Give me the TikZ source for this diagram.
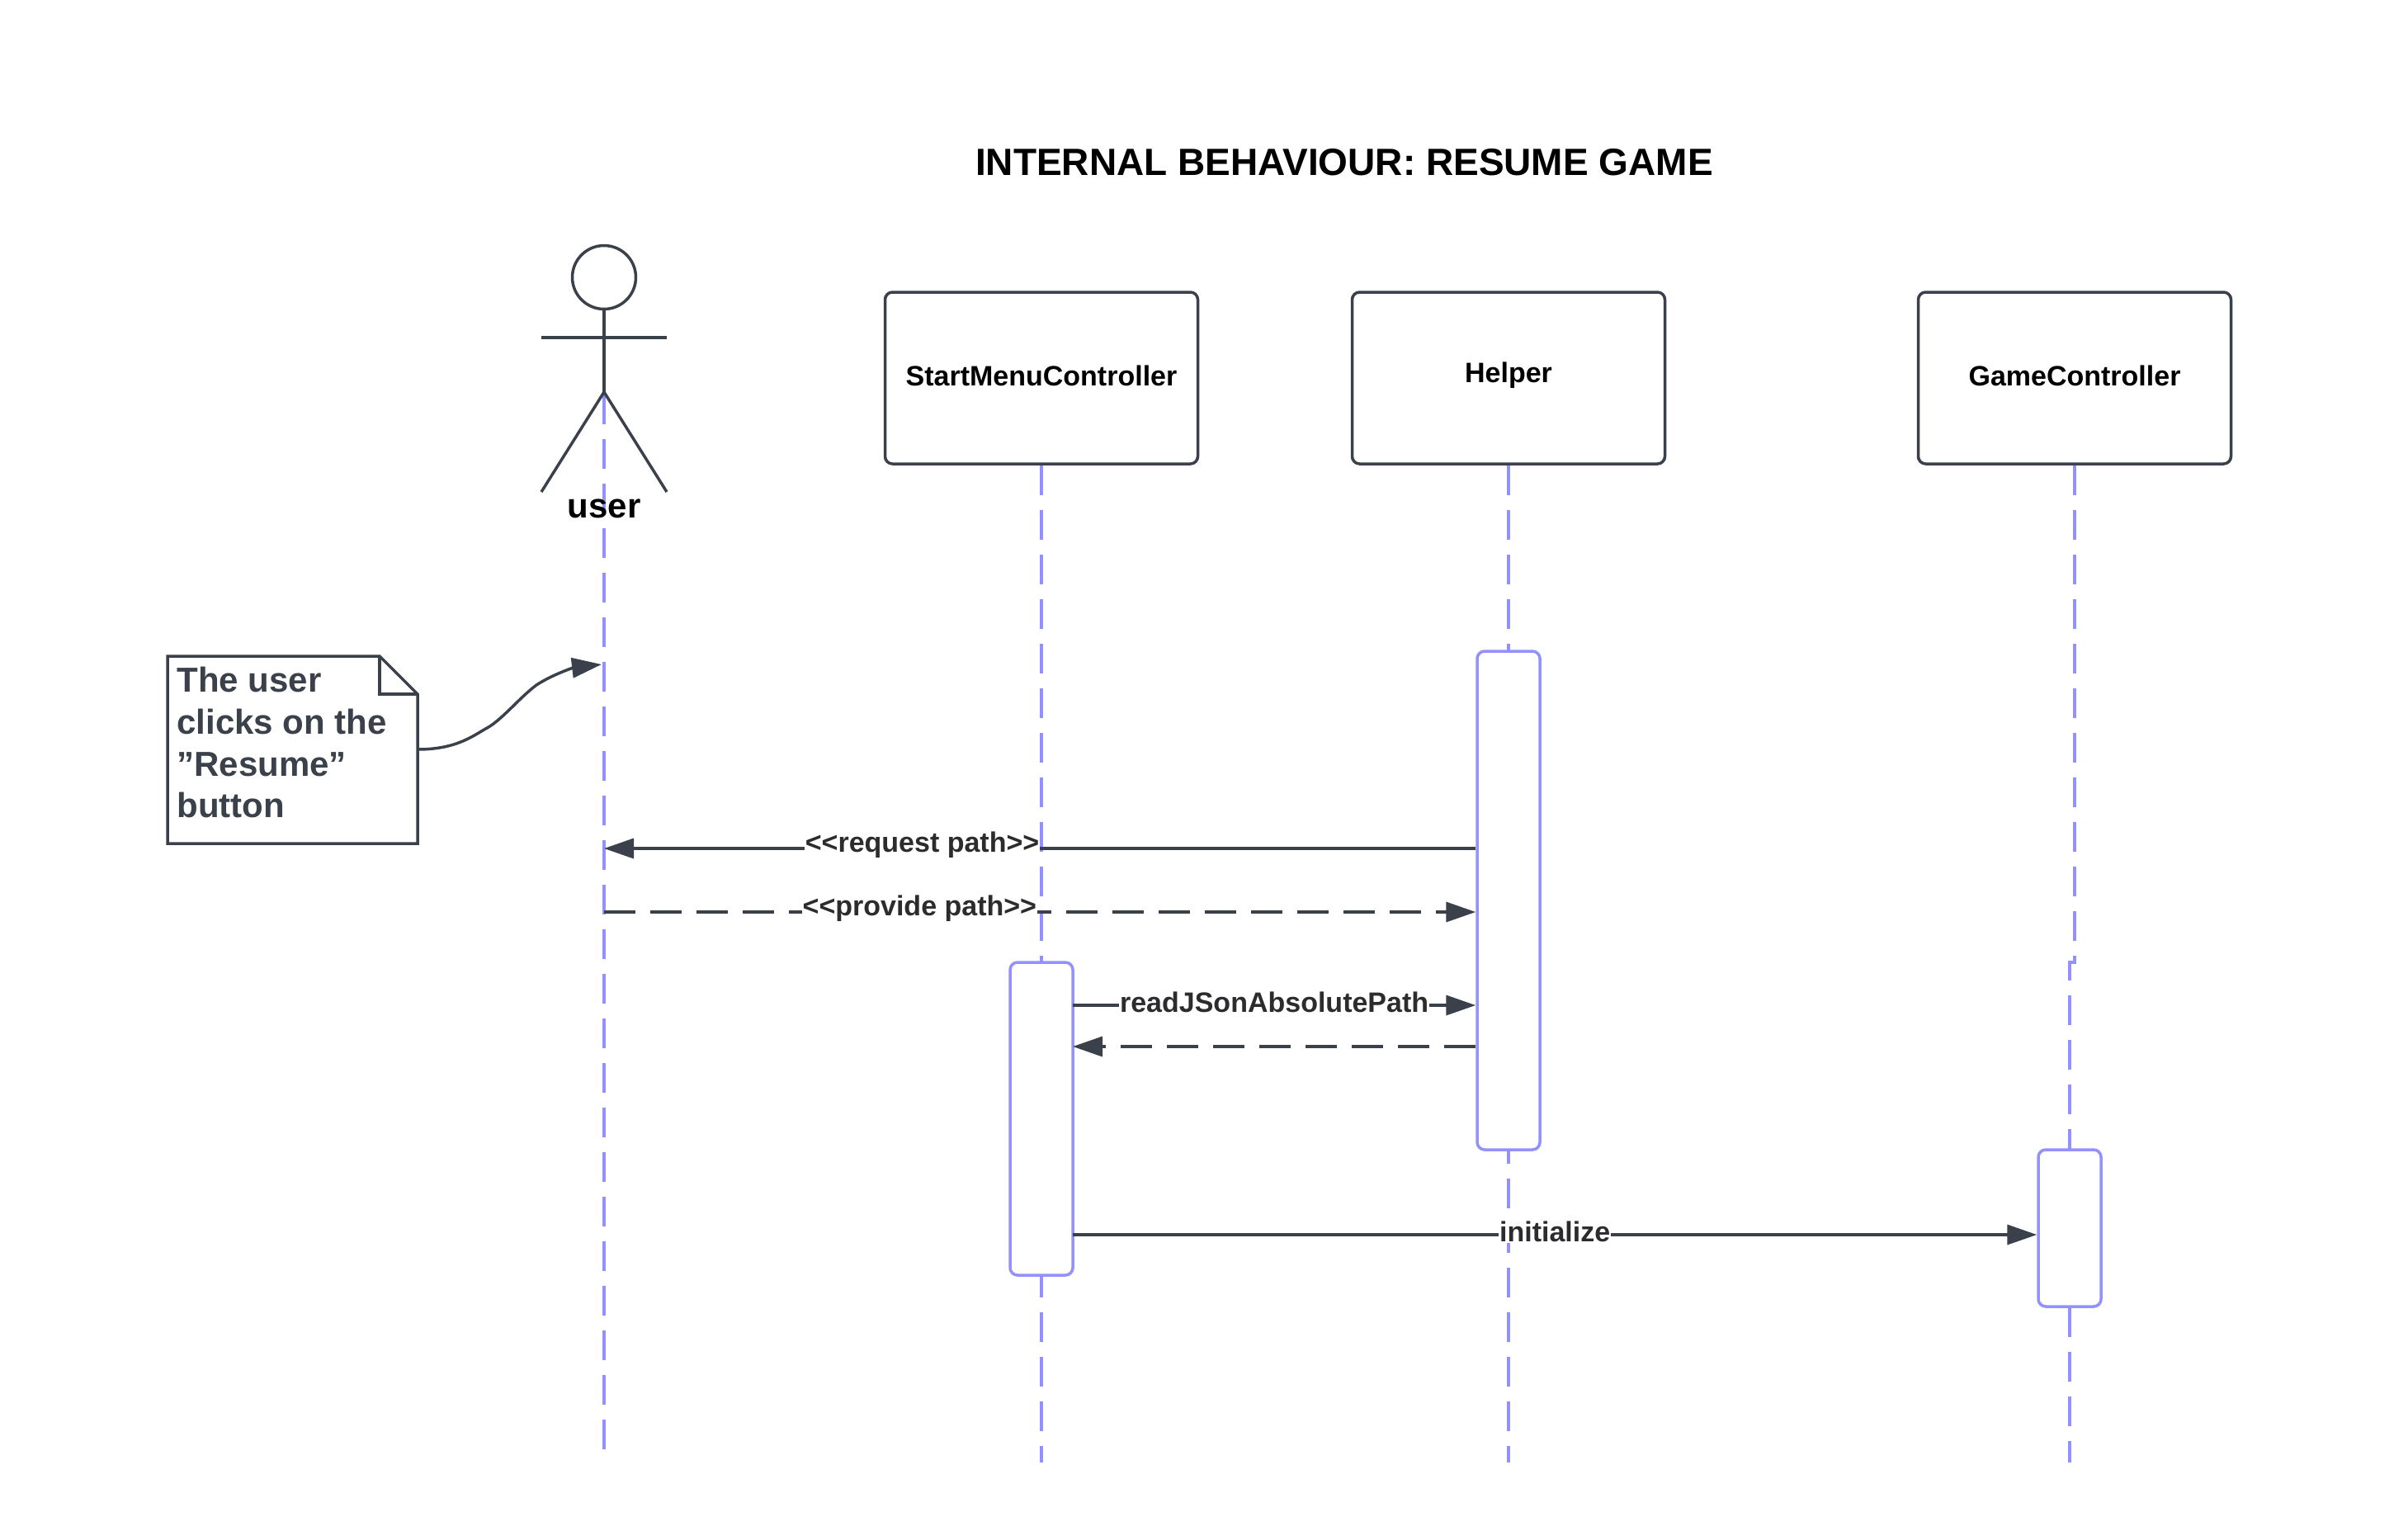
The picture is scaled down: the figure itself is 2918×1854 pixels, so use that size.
\documentclass[tikz,border=0pt]{standalone}
\usepackage{fontspec}
\setmainfont{Liberation Sans}
\usetikzlibrary{arrows.meta,shapes.geometric}
\definecolor{ink}{HTML}{3A414A}
\definecolor{lav}{HTML}{9391FF}
\definecolor{lbl}{HTML}{2C2C2E}
\tikzset{
  x=0.5pt,y=-0.5pt,
  every node/.style={font=\bfseries},
  inkline/.style={draw=ink,line width=1.75pt},
  headbox/.style={draw=ink,fill=white,line width=1.75pt,rounded corners=4.5pt,minimum width=189.5pt,minimum height=104pt,inner sep=0pt},
  headtext/.style={font=\bfseries\fontsize{17}{20}\selectfont,text=black},
  activation/.style={draw=lav,fill=white,line width=1.75pt,rounded corners=4.5pt,minimum width=38pt,inner sep=0pt},
  lifeline/.style={draw=lav,line width=1.75pt,dash pattern=on 18pt off 9pt},
  msg/.style={draw=ink,line width=1.75pt,-{Triangle[length=18pt,width=12pt]},shorten >=0pt},
  reply/.style={msg,dash pattern=on 19pt off 9pt},
  msglabel/.style={fill=white,inner sep=0.5pt,font=\bfseries\fontsize{17}{20}\selectfont,text=lbl},
  notetext/.style={font=\bfseries\fontsize{21}{25.3}\selectfont,text=ink,align=left,anchor=north west,inner sep=0pt},
}
\begin{document}
\begin{tikzpicture}
\useasboundingbox[fill=white] (0,0) rectangle (2918,1854);
% free ends
\coordinate (uTop) at (732,478);
\coordinate (uEnd) at (732,1772);
\coordinate (sEnd) at (1262,1772);
\coordinate (hEnd) at (1828,1772);
\coordinate (gEnd) at (2508,1772);
\coordinate (gJogA) at (2514,1166);
\coordinate (gJogB) at (2508,1166);
% header boxes
\node[headbox] (start) at (1262,458) {};
\node[headbox] (helper) at (1828,458) {};
\node[headbox] (game) at (2514,458) {};
\node[headtext] at (1262,455) {StartMenuController};
\node[headtext] at (1828,455) {Helper};
\node[headtext] at (2514,455) {GameController};
% lifelines
\draw[lifeline] (uTop) -- (uEnd);
\draw[lifeline] (start.south) -- (sEnd);
\draw[lifeline] (helper.south) -- (hEnd);
\draw[lifeline] (game.south) -- (gJogA) -- (gJogB) -- (gEnd);
% activations
\node[activation,minimum height=302pt] (aH) at (1828,1091) {};
\node[activation,minimum height=189.5pt] (aS) at (1262,1355.5) {};
\node[activation,minimum height=95pt] (aG) at (2508,1488) {};
% actor
\node[circle,draw=ink,line width=1.75pt,minimum size=38.5pt,inner sep=0pt] (head) at (732,336) {};
\coordinate (hip) at (732,475);
\coordinate (armL) at (656,409);
\coordinate (armR) at (808,409);
\coordinate (legL) at (656,596);
\coordinate (legR) at (808,596);
\draw[inkline] (head.south) -- (hip);
\draw[inkline] (armL) -- (armR);
\draw[inkline] (legL) -- (hip) -- (legR);
\node[font=\bfseries\fontsize{21}{25}\selectfont,text=black] (userlbl) at (732,616) {user};
% title
\node[font=\bfseries\fontsize{23}{27}\selectfont,text=black] (title) at (1629,197) {INTERNAL BEHAVIOUR: RESUME GAME};
% note
\draw[inkline,fill=white] (203,795) -- (460,795) -- (506,841) -- (506,1022) -- (203,1022) -- cycle;
\draw[inkline] (460,795) -- (460,841) -- (506,841);
\coordinate (noteOut) at (506,908);
\coordinate (noteTip) at (729,805);
\draw[msg] (noteOut) .. controls (555,908) and (575,890) .. (592,881) .. controls (610,870) and (630,845) .. (650,830) .. controls (670,817) and (695,809) .. (noteTip);
\node[notetext] (note) at (214,808) {The user\\clicks on the\\"Resume"\\button};
% messages
\coordinate (m1) at (732,1028);
\coordinate (m2) at (732,1105);
\draw[msg] (aH.west |- m1) -- node[msglabel,pos=0.635,yshift=2pt] {<{}<request path>{}>} (m1);
\draw[reply] (m2) -- node[msglabel,pos=0.362,yshift=2pt] {<{}<provide path>{}>} (aH.west |- m2);
\coordinate (m3) at (1300,1218);
\coordinate (m4) at (1300,1268);
\coordinate (m5) at (1300,1496);
\draw[msg] (m3) -- node[msglabel,pos=0.5,yshift=2pt] {readJSonAbsolutePath} (aH.west |- m3);
\draw[reply] (aH.west |- m4) -- (m4);
\draw[msg] (m5) -- node[msglabel,pos=0.5,yshift=2pt] {initialize} (aG.west |- m5);
\end{tikzpicture}
\end{document}
